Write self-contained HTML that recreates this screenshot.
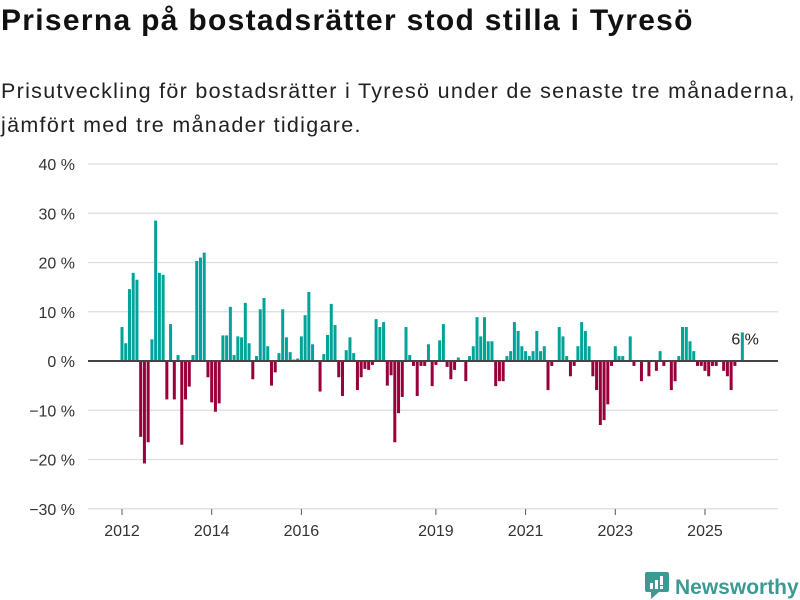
<!DOCTYPE html>
<html><head><meta charset="utf-8"><style>
body{margin:0;width:800px;height:600px;background:#fff;font-family:"Liberation Sans","DejaVu Sans",sans-serif;overflow:hidden;position:relative}
#title{position:absolute;left:1px;top:4px;font-size:30px;font-weight:bold;color:#111;letter-spacing:1.3px;white-space:nowrap}
#sub{position:absolute;left:1px;top:74px;font-size:21.5px;color:#222;line-height:34px;letter-spacing:1.3px;white-space:nowrap}
svg{position:absolute;left:0;top:0}
#logo{position:absolute;left:645px;top:570px;font-size:21px;font-weight:bold;color:#3b9b94}
</style></head><body>
<div id="title">Priserna på bostadsrätter stod stilla i Tyresö</div>
<div id="sub">Prisutveckling för bostadsrätter i Tyresö under de senaste tre månaderna,<br>jämfört med tre månader tidigare.</div>
<svg id="chart" width="800" height="600"></svg>
<div id="logo"><svg width="24" height="30" style="position:static;vertical-align:-6px;margin-right:6px"><rect x="0" y="2" width="24" height="20" rx="2" fill="#3b9b94"/><polygon points="6,22 14,22 6,29" fill="#3b9b94"/><rect x="5" y="13" width="3" height="6" fill="#fff"/><rect x="10" y="10" width="3" height="9" fill="#fff"/><rect x="15" y="6" width="3" height="9" fill="#fff"/><rect x="15" y="16" width="3" height="3" fill="#fff"/></svg>Newsworthy</div>
<script>
const startYear = 2012;
const yTicks = [40,30,20,10,0,-10,-20,-30];
const xTickYears = [2012,2014,2016,2019,2021,2023,2025];
const values = [6.9,3.6,14.6,17.9,16.5,-15.4,-20.8,-16.5,4.4,28.5,17.9,17.5,
-7.8,7.5,-7.8,1.2,-17,-7.8,-5.2,1.2,20.3,21,22,-3.3,
-8.4,-10.3,-8.6,5.2,5.2,11,1.2,5,4.8,11.8,3.6,-3.7,
1,10.5,12.8,3,-5,-2.3,1.6,10.5,4.8,1.8,0.3,0.5,
5,9.3,14,3.4,0,-6.2,1.4,5.3,11.6,7.3,-3.3,-7.1,
2.2,4.8,1.6,-5.9,-3.3,-1.6,-1.8,-0.8,8.5,6.9,7.9,-5,
-2.9,-16.5,-10.6,-7.3,6.9,1.2,-1,-7.1,-1,-1,3.4,-5.1,
-0.8,4.2,7.5,-1.2,-3.7,-1.8,0.7,0,-4.1,1,3,8.9,
5,8.9,4,4,-5.1,-4.1,-4.1,1,2,7.9,6.1,3,
2,1,2,6.1,2,3,-5.9,-1,0,6.9,5,1,
-3.1,-1,3,7.9,6.1,3,-3.1,-5.9,-13,-12,-8.8,-1,
3,1,1,0,5,-1,0,-4.1,0,-3.1,0,-2,
2,-1,0,-5.9,-4.1,1,6.9,6.9,4,2,-1,-1,
-2,-3.1,-1,-1,0,-2,-3.1,-5.9,-1,0,5.8];
const lastLabel = "6 %";
const NS="http://www.w3.org/2000/svg";
const svg=document.getElementById('chart');
const y=v=>361-v*4.925;
const x=m=>122+m*3.737;
function mk(t,a){const e=document.createElementNS(NS,t);for(const k in a)e.setAttribute(k,a[k]);svg.appendChild(e);return e;}
yTicks.forEach(t=>{
  const l=mk('line',{x1:88,x2:778,y1:y(t),y2:y(t),stroke:'#dddddd','stroke-width':1.3});
  
  
  const tx=mk('text',{x:75,y:y(t)+6,'text-anchor':'end','font-size':16,fill:'#333'});
  tx.textContent=(t<0?'\u2212'+(-t):t)+' %';
  
  
});
xTickYears.forEach(yr=>{
  const m=(yr-startYear)*12;
  const l=mk('line',{x1:x(m),x2:x(m),y1:509,y2:515,stroke:'#555'});
  
  
  const tx=mk('text',{x:x(m),y:536,'text-anchor':'middle','font-size':16,fill:'#333'});
  tx.textContent=yr;
  
  
});
const li=values.length-1;
const lab=mk('text',{x:x(li)-11,y:y(values[li])+12,'font-size':16,fill:'#222'});
lab.textContent=lastLabel;


values.forEach((v,i)=>{
  if(v===0)return;
  const r=mk('rect',{x:x(i)-1.5,width:3,y:Math.min(y(v),361),height:Math.abs(y(v)-361),fill:v>0?'#00a39a':'#98003b'});
  
  
});
const z=mk('line',{x1:88,x2:778,y1:361,y2:361,stroke:'#444','stroke-width':2});


</script>
</body></html>
